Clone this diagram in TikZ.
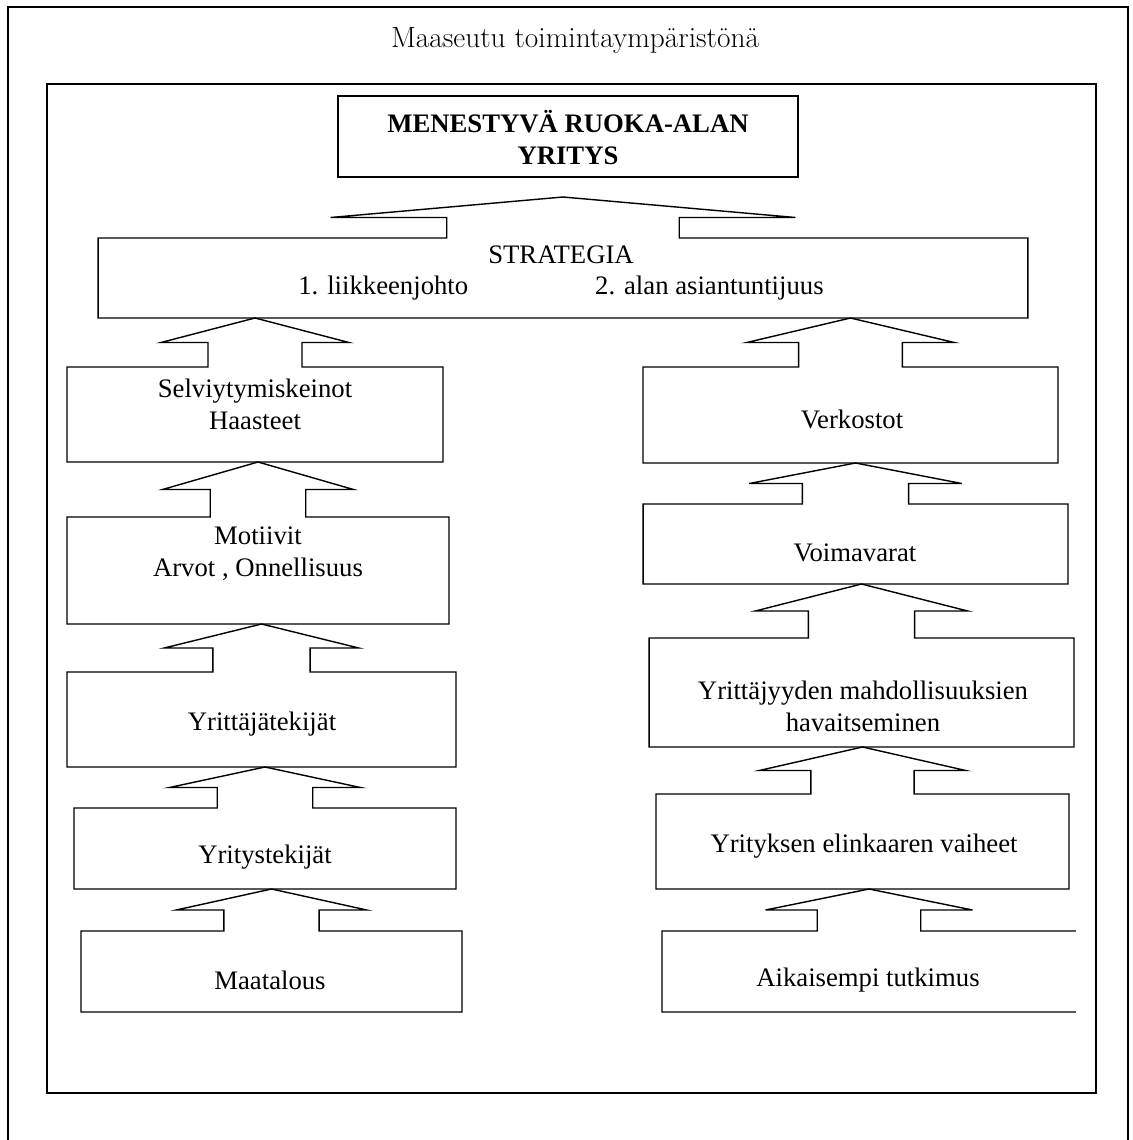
\documentclass[tikz,border=0pt]{standalone}
\usepackage{fontspec}
\setmainfont{Liberation Serif}
\newfontfamily\otsikkofont{Latin Modern Roman}
\usepackage{tikz}
\usetikzlibrary{calc}

\tikzset{
  laatikko/.style={rectangle, inner sep=0pt, outer sep=0pt},
  teksti/.style={align=center, inner sep=0pt},
  reuna/.style={line width=0.8pt, line join=miter},
  kehys/.style={line width=1.2pt},
  otsikko/.style={inner sep=0pt, font=\otsikkofont\fontsize{16.7}{20}\selectfont}
}

% laatikko, jonka ylareunassa on nuoli ylempaan laatikkoon
\newcommand{\nuolilaatikko}[3]{%
  \coordinate (#1-kanta) at ($(#1.north)!0.5!(#1.north |- #2)$);
  \coordinate (#1-vk) at ($(#1.north)!0.5!(#1.north west)$);
  \coordinate (#1-vv) at ($(#1.north)!0.25!(#1.north west)$);
  \coordinate (#1-ok) at ($(#1.north)!0.5!(#1.north east)$);
  \coordinate (#1-ov) at ($(#1.north)!0.25!(#1.north east)$);
  \draw[reuna] (#1.south east) -- (#1.south west) -- (#1.north west)
    -- (#1-vv) -- (#1-vv |- #1-kanta) -- (#1-vk |- #1-kanta) -- (#1.north |- #2)
    -- (#1-ok |- #1-kanta) -- (#1-ov |- #1-kanta) -- (#1-ov) -- (#1.north east) #3;
}

\begin{document}
\begin{tikzpicture}[x=0.02cm, y=-0.02cm, font=\fontsize{15.2}{18.2}\selectfont]
  \useasboundingbox (0,0) rectangle (1133,1140);
  % kehykset
  \draw[kehys] (8,1150) -- (8,7) -- (1128,7) -- (1128,1150);
  \draw[kehys] (47,84) rectangle (1096,1093);
  \node[otsikko] (otsikko) at (575,40) {Maaseutu toimintaympäristönä};

  % ylin laatikko
  \node[laatikko, draw, line width=0.8pt, minimum width=9.2cm, minimum height=1.62cm] (ylin) at (568,136.5) {};
  \node[teksti, font=\fontsize{15.2}{18.2}\selectfont\bfseries] (ylin-t) at (568,138) {MENESTYVÄ RUOKA-ALAN\\YRITYS};
  \coordinate (ylin-ala) at (563,197);

  % strategia
  \node[laatikko, minimum width=18.6cm, minimum height=1.6cm] (strat) at (563,278) {};
  \node[teksti] (strat-t) at (561,273) {STRATEGIA\\1. liikkeenjohto\hspace{2.54cm}2. alan asiantuntijuus};

  % vasen sarake
  \node[laatikko, minimum width=7.52cm, minimum height=1.9cm] (selv) at (255,414.5) {};
  \node[teksti] (selv-t) at (255,404) {Selviytymiskeinot\\Haasteet};
  \node[laatikko, minimum width=7.64cm, minimum height=2.14cm] (motiivit) at (258,570.5) {};
  \node[teksti] (motiivit-t) at (258,554) {Motiivit\\Arvot , Onnellisuus};
  \node[laatikko, minimum width=7.78cm, minimum height=1.9cm] (yrittek) at (261.5,719.5) {};
  \node[teksti] (yrittek-t) at (262,724) {Yrittäjätekijät};
  \node[laatikko, minimum width=7.64cm, minimum height=1.62cm] (yrtek) at (265,848.5) {};
  \node[teksti] (yrtek-t) at (265,857) {Yritystekijät};
  \node[laatikko, minimum width=7.62cm, minimum height=1.62cm] (maat) at (271.5,971.5) {};
  \node[teksti] (maat-t) at (270,980) {Maatalous};

  % oikea sarake
  \node[laatikko, minimum width=8.3cm, minimum height=1.92cm] (verk) at (850.5,415) {};
  \node[teksti] (verk-t) at (852,419) {Verkostot};
  \node[laatikko, minimum width=8.5cm, minimum height=1.6cm] (voima) at (855.5,544) {};
  \node[teksti] (voima-t) at (855,553) {Voimavarat};
  \node[laatikko, minimum width=8.5cm, minimum height=2.18cm] (mahd) at (861.5,692.5) {};
  \node[teksti] (mahd-t) at (863,706) {Yrittäjyyden mahdollisuuksien\\havaitseminen};
  \node[laatikko, minimum width=8.26cm, minimum height=1.9cm] (elink) at (862.5,841.5) {};
  \node[teksti] (elink-t) at (864,846) {Yrityksen elinkaaren vaiheet};
  \node[laatikko, minimum width=8.28cm, minimum height=1.62cm] (aik) at (869,971.5) {};
  \node[teksti] (aik-t) at (868,980) {Aikaisempi tutkimus};

  % laatikot nuolineen
  \nuolilaatikko{strat}{ylin-ala}{-- cycle}
  \nuolilaatikko{selv}{strat.south}{-- cycle}
  \nuolilaatikko{motiivit}{selv.south}{-- cycle}
  \nuolilaatikko{yrittek}{motiivit.south}{-- cycle}
  \nuolilaatikko{yrtek}{yrittek.south}{-- cycle}
  \nuolilaatikko{maat}{yrtek.south}{-- cycle}
  \nuolilaatikko{verk}{strat.south}{-- cycle}
  \nuolilaatikko{voima}{verk.south}{-- cycle}
  \nuolilaatikko{mahd}{voima.south}{-- cycle}
  \nuolilaatikko{elink}{mahd.south}{-- cycle}
  \nuolilaatikko{aik}{elink.south}{}
\end{tikzpicture}
\end{document}
